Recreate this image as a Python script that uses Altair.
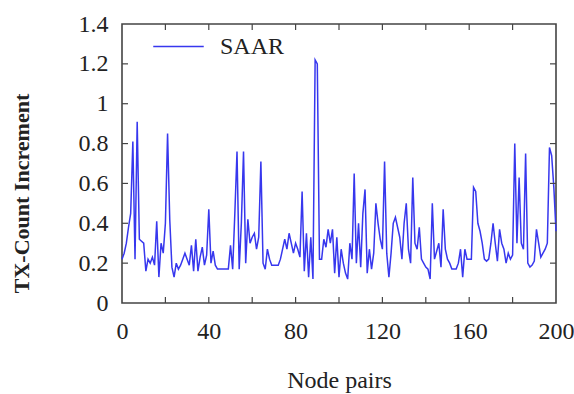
import altair as alt
import pandas as pd

# Node pair index and TX-count increment for SAAR
node = list(range(0, 201))
saar = [
    0.22, 0.25, 0.30, 0.38, 0.45, 0.81, 0.22, 0.91, 0.32, 0.31,
    0.30, 0.16, 0.22, 0.20, 0.23, 0.19, 0.41, 0.13, 0.30, 0.25,
    0.40, 0.85, 0.42, 0.18, 0.13, 0.20, 0.17, 0.19, 0.22, 0.25,
    0.22, 0.19, 0.29, 0.16, 0.32, 0.16, 0.23, 0.28, 0.19, 0.24,
    0.47, 0.20, 0.26, 0.19, 0.17, 0.17, 0.17, 0.17, 0.17, 0.17,
    0.29, 0.17, 0.45, 0.76, 0.17, 0.40, 0.76, 0.20, 0.42, 0.30,
    0.33, 0.35, 0.27, 0.33, 0.71, 0.20, 0.17, 0.27, 0.22, 0.19,
    0.19, 0.19, 0.19, 0.22, 0.27, 0.32, 0.27, 0.35, 0.30, 0.25,
    0.30, 0.27, 0.23, 0.56, 0.16, 0.35, 0.13, 0.33, 0.12, 1.22,
    1.20, 0.22, 0.22, 0.32, 0.28, 0.37, 0.30, 0.37, 0.15, 0.33,
    0.13, 0.27, 0.20, 0.15, 0.12, 0.30, 0.22, 0.65, 0.20, 0.40,
    0.18, 0.45, 0.57, 0.15, 0.27, 0.17, 0.25, 0.50, 0.40, 0.32,
    0.27, 0.71, 0.25, 0.13, 0.25, 0.40, 0.43, 0.38, 0.33, 0.22,
    0.40, 0.50, 0.27, 0.20, 0.63, 0.30, 0.27, 0.38, 0.22, 0.20,
    0.18, 0.17, 0.12, 0.50, 0.22, 0.26, 0.30, 0.18, 0.47, 0.27,
    0.22, 0.20, 0.17, 0.17, 0.17, 0.20, 0.27, 0.13, 0.27, 0.22,
    0.22, 0.22, 0.58, 0.56, 0.40, 0.36, 0.30, 0.22, 0.21, 0.22,
    0.30, 0.40, 0.30, 0.21, 0.37, 0.30, 0.27, 0.20, 0.25, 0.22,
    0.24, 0.80, 0.30, 0.63, 0.30, 0.27, 0.75, 0.20, 0.18, 0.19,
    0.21, 0.37, 0.30, 0.23, 0.25, 0.27, 0.30, 0.78, 0.74, 0.58,
    0.36,
]
series_name = ["SAAR"] * len(node)

x_labels = [0, 40, 80, 120, 160, 200]
x_ticks = [20, 40, 60, 80, 100, 120, 140, 160, 180]
y_labels = [0, 0.2, 0.4, 0.6, 0.8, 1.0, 1.2, 1.4]
y_ticks = [0.2, 0.4, 0.6, 0.8, 1.0, 1.2]

W, H = 434, 279
FONT = "Liberation Serif"
LINE_COLOR = "#3737ee"
FRAME = "#444444"

df = pd.DataFrame({"node": node, "value": saar, "series": series_name})
xt = pd.DataFrame({"t": x_ticks})
yt = pd.DataFrame({"t": y_ticks})

xscale = alt.Scale(domain=[0, 200], nice=False, zero=False)
yscale = alt.Scale(domain=[0, 1.4], nice=False)

x_axis = alt.Axis(
    values=x_labels, title="Node pairs", grid=False, ticks=False, tickSize=0,
    domain=False, labelFont=FONT, labelFontSize=24, labelColor="#222",
    labelPadding=16, labelFlush=False, labelOverlap=False, labelBound=False,
    titleFont=FONT, titleFontSize=24, titleFontWeight="normal",
    titleColor="#222", titleY=84, titleBaseline="alphabetic",
)
y_axis = alt.Axis(
    values=y_labels, format="~g", title="TX-Count Increment", grid=False,
    ticks=False, tickSize=0, domain=False, labelFont=FONT, labelFontSize=24,
    labelColor="#222", labelPadding=14, labelFlush=False, labelOverlap=False,
    labelBound=False, labelSeparation=0, titleFont=FONT, titleFontSize=22,
    titleFontWeight="bold", titleColor="#222", titleAngle=270,
    titleX=-101, titleY=169, titleAlign="center", titleBaseline="middle",
)

line = alt.Chart(df).mark_line(strokeWidth=1.5).encode(
    x=alt.X("node:Q", scale=xscale, axis=x_axis),
    y=alt.Y("value:Q", scale=yscale, axis=y_axis),
    color=alt.Color(
        "series:N",
        scale=alt.Scale(domain=["SAAR"], range=[LINE_COLOR]),
        legend=alt.Legend(
            title=None, orient="none", legendX=30, legendY=-4, padding=0,
            symbolType="stroke", symbolSize=2550, symbolStrokeWidth=1.6,
            labelFont=FONT, labelFontSize=24, labelColor="#222", labelOffset=15,
        ),
    ),
)

tick_len = 6
bottom_ticks = alt.Chart(xt).mark_rule(color=FRAME, strokeWidth=1.2).encode(
    x=alt.X("t:Q", scale=xscale, axis=x_axis), y=alt.value(H), y2=alt.value(H - tick_len)
)
top_ticks = alt.Chart(xt).mark_rule(color=FRAME, strokeWidth=1.2).encode(
    x=alt.X("t:Q", scale=xscale, axis=x_axis), y=alt.value(0), y2=alt.value(tick_len)
)
left_ticks = alt.Chart(yt).mark_rule(color=FRAME, strokeWidth=1.2).encode(
    y=alt.Y("t:Q", scale=yscale, axis=y_axis), x=alt.value(0), x2=alt.value(tick_len)
)
right_ticks = alt.Chart(yt).mark_rule(color=FRAME, strokeWidth=1.2).encode(
    y=alt.Y("t:Q", scale=yscale, axis=y_axis), x=alt.value(W), x2=alt.value(W - tick_len)
)

chart = alt.layer(line, bottom_ticks, top_ticks, left_ticks, right_ticks).properties(
    width=W, height=H,
    autosize=alt.AutoSizeParams(type="none"),
    padding={"left": 122, "top": 24, "right": 18, "bottom": 91},
    background="white",
).configure_view(stroke=FRAME, strokeWidth=1.6).configure_axis(labelOverlap=False)

chart.save("out.html", embed_options={"renderer": "svg", "actions": False})
